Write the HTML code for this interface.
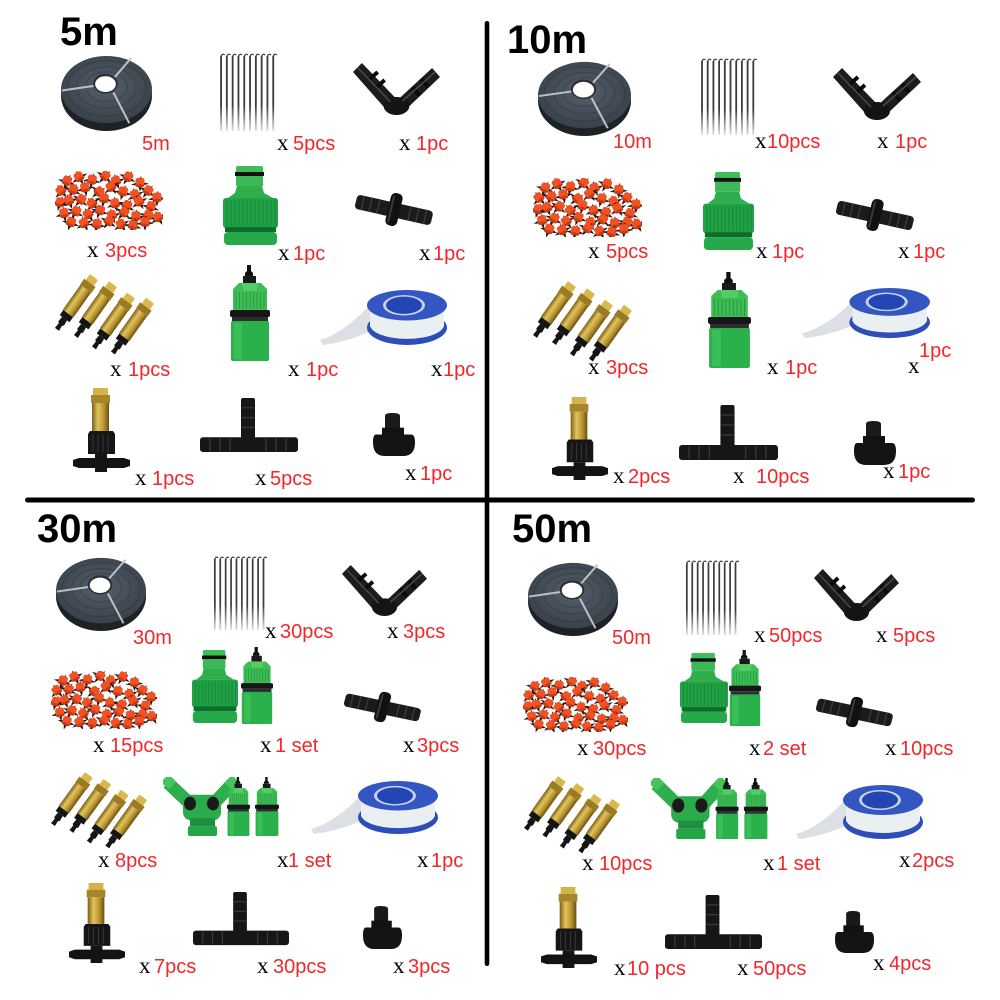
<!DOCTYPE html>
<html><head><meta charset="utf-8">
<style>
html,body{margin:0;padding:0;background:#fff;}
svg{display:block;}
.t{font-family:"Liberation Sans",Arial,sans-serif;font-weight:bold;font-size:40px;fill:#000;}
.r{font-family:"Liberation Sans",Arial,sans-serif;font-size:20px;fill:#f3262a;}
.x{font-family:"Liberation Serif","Times New Roman",serif;font-size:23px;fill:#000;}
</style></head><body>
<svg width="1000" height="1000" viewBox="0 0 1000 1000" xmlns="http://www.w3.org/2000/svg" xmlns:xlink="http://www.w3.org/1999/xlink">
<defs>
<linearGradient id="brass" x1="0" x2="1" y1="0" y2="0"><stop offset="0" stop-color="#7e6018"/><stop offset=".35" stop-color="#e2c45c"/><stop offset=".7" stop-color="#b8932f"/><stop offset="1" stop-color="#6a5013"/></linearGradient>
<linearGradient id="fade" x1="0" y1="0" x2="0" y2="1"><stop offset="0" stop-color="#fff" stop-opacity="0"/><stop offset="1" stop-color="#fff" stop-opacity=".9"/></linearGradient>
<radialGradient id="hoseg" cx=".5" cy=".45" r=".55"><stop offset="0" stop-color="#56606a"/><stop offset="1" stop-color="#39424b"/></radialGradient>

<g id="dr">
<path d="M-9 2 L-2 -1 L1 -7 L2 -1 L9 1 L2 3 L0 9 L-2 3Z" fill="#1a1a1a"/>
<rect x="-4.5" y="-5" width="9" height="9" rx="2.5" fill="#f25124"/>
<ellipse cx="0" cy="3" rx="4.5" ry="1.6" fill="#c73a15"/>
</g>

<g id="bn">
<rect x="-5" y="0" width="10" height="7" rx="1" fill="#d8b94e"/>
<rect x="-7" y="7" width="14" height="7" fill="#9a7a22"/>
<rect x="-6.5" y="14" width="13" height="30" fill="url(#brass)"/>
<rect x="-6" y="44" width="12" height="6" fill="#141414"/>
<path d="M-3 50 H3 L3.5 56 L2 57 L2.5 63 H-2.5 L-2 57 L-3.5 56Z" fill="#141414"/>
</g>

<symbol id="hose" viewBox="0 0 94 80" preserveAspectRatio="none">
<ellipse cx="47" cy="43" rx="46" ry="36" fill="#1d2227"/>
<ellipse cx="47" cy="37" rx="46" ry="34" fill="url(#hoseg)"/>
<ellipse cx="47" cy="36" rx="40" ry="28" fill="none" stroke="#2c333a" stroke-width="1" opacity=".6"/>
<ellipse cx="47" cy="35" rx="30" ry="21" fill="none" stroke="#2c333a" stroke-width="1" opacity=".5"/>
<ellipse cx="47" cy="34" rx="21" ry="15" fill="none" stroke="#2c333a" stroke-width="1" opacity=".5"/>
<path d="M54 26 L72 5 M36 33 L2 38 M54 40 L70 71" stroke="#b9c2cb" stroke-width="2" fill="none"/>
<ellipse cx="46" cy="31" rx="12.5" ry="10" fill="#2a3036"/>
<ellipse cx="46" cy="31.5" rx="10.5" ry="8" fill="#fff"/>
</symbol>

<symbol id="stakes" viewBox="0 0 58 80" preserveAspectRatio="none">
<path d="M3 4 V78 M8.7 4 V78 M14.4 4 V78 M20.1 4 V78 M25.8 4 V78 M31.5 4 V78 M37.2 4 V78 M42.9 4 V78 M48.6 4 V78 M54.3 4 V78" stroke="#3b3b3b" stroke-width="1.8"/>
<path d="M3 4 q1.5 -3 3.5 -1 M8.7 4 q1.5 -3 3.5 -1 M14.4 4 q1.5 -3 3.5 -1 M20.1 4 q1.5 -3 3.5 -1 M25.8 4 q1.5 -3 3.5 -1 M31.5 4 q1.5 -3 3.5 -1 M37.2 4 q1.5 -3 3.5 -1 M42.9 4 q1.5 -3 3.5 -1 M48.6 4 q1.5 -3 3.5 -1 M54.3 4 q1.5 -3 3.5 -1" stroke="#3b3b3b" stroke-width="1.2" fill="none"/>
<rect x="0" y="52" width="58" height="28" fill="url(#fade)"/>
</symbol>

<symbol id="elbow" viewBox="0 0 88 52" preserveAspectRatio="none">
<path d="M0 9 L9 0 L44 36 L33 46Z" fill="#1c1c1c"/>
<path d="M44 38 L80 5 L88 14 L54 46Z" fill="#1c1c1c"/>
<ellipse cx="44" cy="43" rx="13" ry="9" fill="#141414"/>
<path d="M16 17 L25 9 M23 25 L32 17 M60 24 L67 32 M69 16 L76 24" stroke="#0b0b0b" stroke-width="4"/>
<path d="M5 5 L38 39 M50 38 L83 9" stroke="#4a4a4a" stroke-width="1.5"/>
</symbol>

<symbol id="drip" viewBox="0 0 108 60" preserveAspectRatio="none">
<use xlink:href="#dr" transform="translate(12,10) rotate(20)"/><use xlink:href="#dr" transform="translate(24,6) rotate(-30)"/><use xlink:href="#dr" transform="translate(37,9) rotate(10)"/><use xlink:href="#dr" transform="translate(50,5) rotate(40)"/><use xlink:href="#dr" transform="translate(61,10) rotate(-20)"/><use xlink:href="#dr" transform="translate(73,6) rotate(30)"/><use xlink:href="#dr" transform="translate(85,12)"/>
<use xlink:href="#dr" transform="translate(6,20) rotate(-40)"/><use xlink:href="#dr" transform="translate(18,19) rotate(25)"/><use xlink:href="#dr" transform="translate(30,17) rotate(-10)"/><use xlink:href="#dr" transform="translate(44,21) rotate(50)"/><use xlink:href="#dr" transform="translate(56,16) rotate(-35)"/><use xlink:href="#dr" transform="translate(68,21) rotate(15)"/><use xlink:href="#dr" transform="translate(80,24) rotate(-25)"/><use xlink:href="#dr" transform="translate(93,20) rotate(35)"/><use xlink:href="#dr" transform="translate(102,27)"/>
<use xlink:href="#dr" transform="translate(5,32) rotate(15)"/><use xlink:href="#dr" transform="translate(14,30) rotate(-20)"/><use xlink:href="#dr" transform="translate(26,29) rotate(40)"/><use xlink:href="#dr" transform="translate(37,33) rotate(-45)"/><use xlink:href="#dr" transform="translate(49,28) rotate(10)"/><use xlink:href="#dr" transform="translate(60,33) rotate(-15)"/><use xlink:href="#dr" transform="translate(72,35) rotate(30)"/><use xlink:href="#dr" transform="translate(84,31) rotate(-30)"/><use xlink:href="#dr" transform="translate(96,36) rotate(20)"/>
<use xlink:href="#dr" transform="translate(9,43) rotate(-10)"/><use xlink:href="#dr" transform="translate(21,41) rotate(30)"/><use xlink:href="#dr" transform="translate(33,44) rotate(-35)"/><use xlink:href="#dr" transform="translate(45,40) rotate(20)"/><use xlink:href="#dr" transform="translate(57,45) rotate(-20)"/><use xlink:href="#dr" transform="translate(69,42) rotate(40)"/><use xlink:href="#dr" transform="translate(81,46) rotate(-5)"/><use xlink:href="#dr" transform="translate(93,45) rotate(25)"/><use xlink:href="#dr" transform="translate(103,47) rotate(-30)"/>
<use xlink:href="#dr" transform="translate(16,52) rotate(20)"/><use xlink:href="#dr" transform="translate(29,53) rotate(-25)"/><use xlink:href="#dr" transform="translate(42,54) rotate(10)"/><use xlink:href="#dr" transform="translate(54,51) rotate(35)"/><use xlink:href="#dr" transform="translate(66,54) rotate(-30)"/><use xlink:href="#dr" transform="translate(78,55) rotate(15)"/><use xlink:href="#dr" transform="translate(90,52)"/>
</symbol>

<symbol id="tap" viewBox="0 0 55 79" preserveAspectRatio="none">
<rect x="13" y="0" width="27" height="7" rx="2" fill="#3fbd58"/>
<rect x="12" y="6" width="29" height="4" fill="#111"/>
<rect x="13" y="10" width="27" height="10" fill="#3bb956"/>
<path d="M14 20 H39 L41 27 L50 32 H5 L12 27Z" fill="#2fae4e"/>
<rect x="0" y="32" width="55" height="30" rx="3" fill="#21a246"/>
<path d="M4 34 V60 M8 34 V60 M12 34 V60 M16 34 V60 M20 34 V60 M24 34 V60 M28 34 V60 M32 34 V60 M36 34 V60 M40 34 V60 M44 34 V60 M48 34 V60 M52 34 V60" stroke="#178a38" stroke-width="1.2"/>
<rect x="2" y="61" width="51" height="5" fill="#0e6d2b"/>
<rect x="1" y="66" width="53" height="13" rx="4" fill="#25a94a"/>
</symbol>

<symbol id="qc" viewBox="0 0 40 96" preserveAspectRatio="none">
<path d="M17 0 H21 V6 L23 8 V11 H15 V8 L17 6Z" fill="#111"/>
<rect x="13" y="11" width="13" height="7" fill="#1a1a1a"/>
<path d="M9 18 H31 L37 24 V46 H3 V24Z" fill="#3dbd55"/>
<path d="M6 27 V44 M9.5 27 V44 M13 27 V44 M16.5 27 V44 M20 27 V44 M23.5 27 V44 M27 27 V44 M30.5 27 V44 M34 27 V44" stroke="#2a9a43" stroke-width="1"/>
<path d="M12 18 L28 18 L27 26 L13 26Z" fill="#55cc68"/>
<rect x="0" y="45" width="40" height="7" rx="2" fill="#161616"/>
<rect x="2" y="52" width="36" height="5" fill="#2d2d2d"/>
<rect x="1" y="56" width="38" height="40" rx="2" fill="#2bb14b"/>
<rect x="4" y="58" width="8" height="36" fill="#45c760" opacity=".6"/>
</symbol>

<symbol id="conn" viewBox="0 0 81 38" preserveAspectRatio="none">
<g transform="rotate(13 40 19)">
<rect x="1" y="12" width="78" height="15" rx="4" fill="#1b1b1b"/>
<path d="M8 12 V27 M16 12 V27 M24 12 V27 M56 12 V27 M64 12 V27 M72 12 V27" stroke="#3c3c3c" stroke-width="1.3"/>
<rect x="34" y="2" width="12" height="34" rx="5" fill="#111"/>
<rect x="36" y="5" width="2" height="28" fill="#3a3a3a"/>
</g>
</symbol>

<symbol id="nozz" viewBox="0 0 98 76" preserveAspectRatio="none" overflow="visible">
<use xlink:href="#bn" transform="translate(37,2) rotate(36)"/>
<use xlink:href="#bn" transform="translate(56,9) rotate(36)"/>
<use xlink:href="#bn" transform="translate(74,20) rotate(36)"/>
<use xlink:href="#bn" transform="translate(93,25) rotate(36)"/>
</symbol>

<symbol id="tape" viewBox="0 0 127 55" preserveAspectRatio="none">
<path d="M0 49 C18 44 36 30 52 12 L55 38 C40 46 20 52 3 54Z" fill="#dcdfe3"/>
<ellipse cx="87" cy="37" rx="40" ry="17" fill="#2d4db8"/>
<rect x="50" y="15" width="74" height="21" fill="#eaeff2"/>
<ellipse cx="87" cy="34" rx="37" ry="14" fill="#eaeff2"/>
<ellipse cx="87" cy="15" rx="40" ry="15" fill="#3356c2"/>
<ellipse cx="84" cy="15" rx="21" ry="10" fill="#c9d4ea"/>
<ellipse cx="84" cy="15" rx="18" ry="8.5" fill="#2446b4"/>
</symbol>

<symbol id="brassT" viewBox="0 0 57 84" preserveAspectRatio="none">
<rect x="20" y="0" width="15" height="7" fill="#d4b448"/>
<rect x="18" y="7" width="19" height="8" fill="#a7852a"/>
<rect x="19" y="15" width="17" height="28" fill="url(#brass)"/>
<path d="M17 43 H40 L42 46 V66 H15 V46Z" fill="#151515"/>
<path d="M20 46 V64 M25 46 V64 M30 46 V64 M35 46 V64" stroke="#333" stroke-width="1.2"/>
<rect x="22" y="66" width="12" height="18" fill="#151515"/>
<path d="M0 72 L6 70 H51 L57 72 V78 L51 80 H6 L0 78Z" fill="#131313"/>
</symbol>

<symbol id="tconn" viewBox="0 0 98 57" preserveAspectRatio="none">
<rect x="41" y="0" width="14" height="44" rx="2" fill="#161616"/>
<rect x="0" y="40" width="98" height="15" rx="3" fill="#161616"/>
<path d="M42 10 H54 M42 20 H54 M42 30 H54 M10 41 V54 M20 41 V54 M30 41 V54 M66 41 V54 M76 41 V54 M86 41 V54" stroke="#3a3a3a" stroke-width="1.2"/>
</symbol>

<symbol id="plug" viewBox="0 0 42 45" preserveAspectRatio="none">
<path d="M12 3 Q12 0 19 0 Q27 0 27 3 V20 H12Z" fill="#1a1a1a"/>
<rect x="9" y="15" width="22" height="12" fill="#121212"/>
<path d="M3 22 Q0 22 0 30 Q0 44 12 44 H30 Q42 44 42 30 Q42 22 38 22Z" fill="#141414"/>
</symbol>

<symbol id="ysplit" viewBox="0 0 117 61" preserveAspectRatio="none">
<path d="M5 6 L30 30" stroke="#2fae4e" stroke-width="13"/>
<path d="M70 6 L48 30" stroke="#2fae4e" stroke-width="13"/>
<rect x="0" y="0" width="11" height="11" rx="2" fill="#45c35c" transform="rotate(-45 5 5)"/>
<rect x="64" y="0" width="11" height="11" rx="2" fill="#45c35c" transform="rotate(45 69 5)"/>
<rect x="20" y="18" width="38" height="26" rx="8" fill="#2bab4b"/>
<ellipse cx="27" cy="27" rx="6" ry="7" fill="#1a1a1a"/>
<ellipse cx="50" cy="27" rx="6" ry="7" fill="#1a1a1a"/>
<rect x="27" y="42" width="25" height="8" fill="#1e8f3e"/>
<rect x="25" y="50" width="29" height="10" rx="2" fill="#24a647"/>
<use xlink:href="#qc" x="64" y="0" width="23" height="60"/>
<use xlink:href="#qc" x="92" y="0" width="24" height="60"/>
</symbol>
</defs>

<rect width="1000" height="1000" fill="#fff"/>

<!-- divider lines -->
<rect x="484.7" y="21" width="4.6" height="945" rx="2.3" fill="#000"/>
<rect x="25" y="497.5" width="950" height="5" rx="2.5" fill="#000"/>

<!-- ===== Q1: 5m ===== -->
<text class="t" x="60" y="45">5m</text>
<use xlink:href="#hose" x="60" y="53" width="93" height="79"/>
<use xlink:href="#stakes" x="218" y="52" width="59" height="81"/>
<use xlink:href="#elbow" x="353" y="63" width="87" height="52"/>
<use xlink:href="#drip" x="55" y="171" width="108" height="59"/>
<use xlink:href="#tap" x="223" y="166" width="55" height="79"/>
<use xlink:href="#conn" x="354" y="191" width="81" height="37"/>
<use xlink:href="#nozz" x="57" y="275" width="98" height="78"/>
<use xlink:href="#qc" x="230" y="265" width="40" height="96"/>
<use xlink:href="#tape" x="320" y="290" width="127" height="56"/>
<use xlink:href="#brassT" x="73" y="388" width="57" height="84"/>
<use xlink:href="#tconn" x="200" y="398" width="98" height="56"/>
<use xlink:href="#plug" x="373" y="413" width="42" height="44"/>

<text class="r" x="142" y="150">5m</text>
<text class="x" x="277" y="150">x</text><text class="r" x="293" y="150">5pcs</text>
<text class="x" x="399" y="150">x</text><text class="r" x="416" y="150">1pc</text>
<text class="x" x="87" y="257">x</text><text class="r" x="105" y="257">3pcs</text>
<text class="x" x="278" y="260">x</text><text class="r" x="293" y="260">1pc</text>
<text class="x" x="419" y="260">x</text><text class="r" x="433" y="260">1pc</text>
<text class="x" x="110" y="376">x</text><text class="r" x="128" y="376">1pcs</text>
<text class="x" x="288" y="376">x</text><text class="r" x="306" y="376">1pc</text>
<text class="x" x="431" y="376">x</text><text class="r" x="443" y="376">1pc</text>
<text class="x" x="135" y="485">x</text><text class="r" x="152" y="485">1pcs</text>
<text class="x" x="255" y="485">x</text><text class="r" x="270" y="485">5pcs</text>
<text class="x" x="405" y="480">x</text><text class="r" x="420" y="480">1pc</text>

<!-- ===== Q2: 10m ===== -->
<text class="t" x="507" y="53">10m</text>
<use xlink:href="#hose" x="537" y="59" width="95" height="78"/>
<use xlink:href="#stakes" x="699" y="57" width="58" height="80"/>
<use xlink:href="#elbow" x="833" y="68" width="88" height="52"/>
<use xlink:href="#drip" x="533" y="178" width="109" height="59"/>
<use xlink:href="#tap" x="703" y="172" width="51" height="78"/>
<use xlink:href="#conn" x="835" y="197" width="81" height="36"/>
<use xlink:href="#nozz" x="535" y="282" width="98" height="78"/>
<use xlink:href="#qc" x="708" y="272" width="43" height="96"/>
<use xlink:href="#tape" x="802" y="288" width="128" height="51"/>
<use xlink:href="#brassT" x="552" y="397" width="56" height="83"/>
<use xlink:href="#tconn" x="679" y="405" width="99" height="57"/>
<use xlink:href="#plug" x="854" y="421" width="42" height="45"/>

<text class="r" x="613" y="148">10m</text>
<text class="x" x="755" y="148">x</text><text class="r" x="767" y="148">10pcs</text>
<text class="x" x="877" y="148">x</text><text class="r" x="895" y="148">1pc</text>
<text class="x" x="588" y="258">x</text><text class="r" x="606" y="258">5pcs</text>
<text class="x" x="756" y="258">x</text><text class="r" x="772" y="258">1pc</text>
<text class="x" x="898" y="258">x</text><text class="r" x="913" y="258">1pc</text>
<text class="x" x="588" y="374">x</text><text class="r" x="606" y="374">3pcs</text>
<text class="x" x="767" y="374">x</text><text class="r" x="785" y="374">1pc</text>
<text class="x" x="908" y="373">x</text><text class="r" x="919" y="357">1pc</text>
<text class="x" x="613" y="483">x</text><text class="r" x="628" y="483">2pcs</text>
<text class="x" x="733" y="483">x</text><text class="r" x="756" y="483">10pcs</text>
<text class="x" x="883" y="478">x</text><text class="r" x="898" y="478">1pc</text>

<!-- ===== Q3: 30m ===== -->
<text class="t" x="37" y="542">30m</text>
<use xlink:href="#hose" x="55" y="555" width="92" height="77"/>
<use xlink:href="#stakes" x="212" y="555" width="55" height="77"/>
<use xlink:href="#elbow" x="342" y="565" width="85" height="51"/>
<use xlink:href="#drip" x="51" y="671" width="106" height="58"/>
<use xlink:href="#tap" x="192" y="650" width="46" height="73"/>
<use xlink:href="#qc" x="241" y="647" width="32" height="77"/>
<use xlink:href="#conn" x="343" y="690" width="80" height="34"/>
<use xlink:href="#nozz" x="53" y="773" width="95" height="74"/>
<use xlink:href="#ysplit" x="163" y="777" width="117" height="60"/>
<use xlink:href="#tape" x="311" y="781" width="127" height="54"/>
<use xlink:href="#brassT" x="69" y="883" width="56" height="80"/>
<use xlink:href="#tconn" x="193" y="892" width="96" height="55"/>
<use xlink:href="#plug" x="363" y="906" width="39" height="44"/>

<text class="r" x="133" y="644">30m</text>
<text class="x" x="265" y="638">x</text><text class="r" x="280" y="638">30pcs</text>
<text class="x" x="387" y="638">x</text><text class="r" x="403" y="638">3pcs</text>
<text class="x" x="93" y="752">x</text><text class="r" x="110" y="752">15pcs</text>
<text class="x" x="260" y="752">x</text><text class="r" x="275" y="752">1 set</text>
<text class="x" x="403" y="752">x</text><text class="r" x="417" y="752">3pcs</text>
<text class="x" x="98" y="867">x</text><text class="r" x="115" y="867">8pcs</text>
<text class="x" x="277" y="867">x</text><text class="r" x="288" y="867">1 set</text>
<text class="x" x="417" y="867">x</text><text class="r" x="431" y="867">1pc</text>
<text class="x" x="139" y="973">x</text><text class="r" x="154" y="973">7pcs</text>
<text class="x" x="257" y="973">x</text><text class="r" x="273" y="973">30pcs</text>
<text class="x" x="393" y="973">x</text><text class="r" x="408" y="973">3pcs</text>

<!-- ===== Q4: 50m ===== -->
<text class="t" x="512" y="542">50m</text>
<use xlink:href="#hose" x="527" y="560" width="92" height="77"/>
<use xlink:href="#stakes" x="684" y="559" width="55" height="78"/>
<use xlink:href="#elbow" x="814" y="569" width="85" height="52"/>
<use xlink:href="#drip" x="523" y="677" width="105" height="55"/>
<use xlink:href="#tap" x="680" y="653" width="48" height="70"/>
<use xlink:href="#qc" x="729" y="650" width="32" height="76"/>
<use xlink:href="#conn" x="815" y="695" width="80" height="34"/>
<use xlink:href="#nozz" x="526" y="777" width="95" height="75"/>
<use xlink:href="#ysplit" x="651" y="778" width="118" height="62"/>
<use xlink:href="#tape" x="796" y="785" width="127" height="55"/>
<use xlink:href="#brassT" x="541" y="887" width="56" height="81"/>
<use xlink:href="#tconn" x="665" y="895" width="97" height="56"/>
<use xlink:href="#plug" x="835" y="911" width="39" height="43"/>

<text class="r" x="612" y="644">50m</text>
<text class="x" x="754" y="642">x</text><text class="r" x="769" y="642">50pcs</text>
<text class="x" x="876" y="642">x</text><text class="r" x="893" y="642">5pcs</text>
<text class="x" x="577" y="755">x</text><text class="r" x="593" y="755">30pcs</text>
<text class="x" x="749" y="755">x</text><text class="r" x="763" y="755">2 set</text>
<text class="x" x="885" y="755">x</text><text class="r" x="900" y="755">10pcs</text>
<text class="x" x="582" y="870">x</text><text class="r" x="599" y="870">10pcs</text>
<text class="x" x="763" y="870">x</text><text class="r" x="777" y="870">1 set</text>
<text class="x" x="899" y="867">x</text><text class="r" x="912" y="867">2pcs</text>
<text class="x" x="614" y="975">x</text><text class="r" x="627" y="975">10 pcs</text>
<text class="x" x="737" y="975">x</text><text class="r" x="753" y="975">50pcs</text>
<text class="x" x="873" y="970">x</text><text class="r" x="889" y="970">4pcs</text>
</svg>
</body></html>
